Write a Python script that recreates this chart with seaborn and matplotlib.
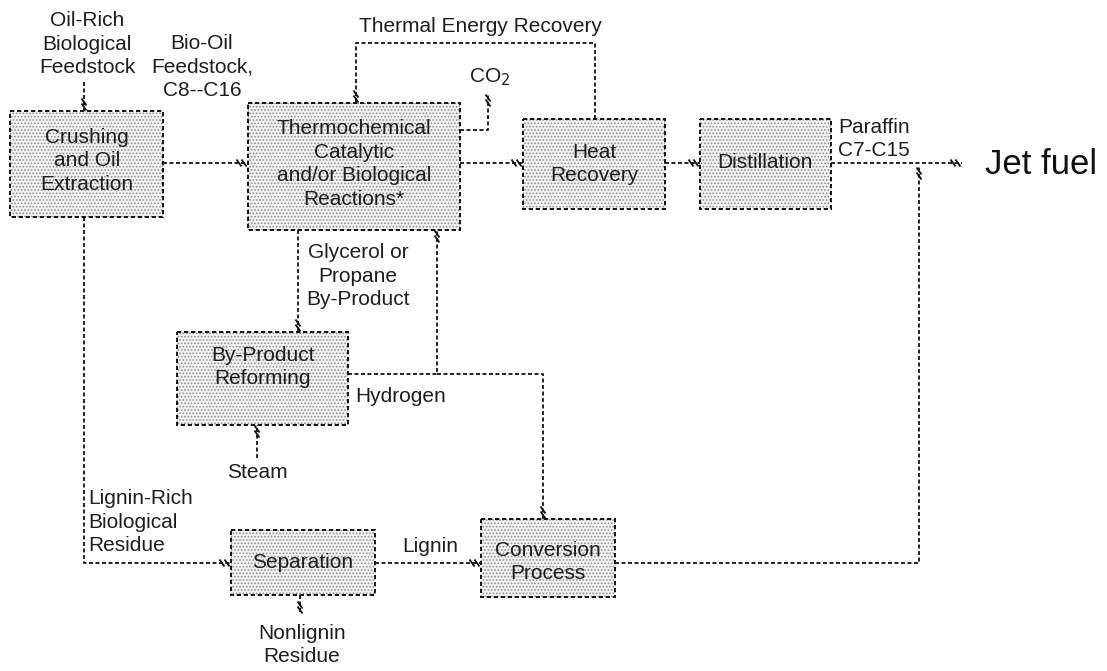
import numpy as np
import pandas as pd
import seaborn as sns
import matplotlib.pyplot as plt
from matplotlib.patches import Rectangle

# process boxes: label text, box extent (left, top, right, bottom) and label centre in pixel units
BOX_LABELS = ["Crushing\nand Oil\nExtraction",
              "Thermochemical\nCatalytic\nand/or Biological\nReactions*",
              "Heat\nRecovery",
              "Distillation",
              "By-Product\nReforming",
              "Separation",
              "Conversion\nProcess"]
BOX_EXTENTS = [(10, 111, 163, 217), (248, 103, 460, 230), (523, 119, 665, 209),
               (700, 119, 831, 209), (177, 332, 348, 425), (231, 530, 375, 595),
               (481, 519, 615, 597)]
BOX_TEXT_POS = [(87, 161), (354, 164), (594, 164), (765, 163), (263, 367),
                (303, 563), (548, 562)]

# stream labels around the boxes
STREAM_LABELS = ["Oil-Rich\nBiological\nFeedstock", "Bio-Oil\nFeedstock,\nC8--C16",
                 "Thermal Energy Recovery", "CO$_2$", "Paraffin\nC7-C15",
                 "Glycerol or\nPropane\nBy-Product", "Hydrogen", "Steam",
                 "Lignin-Rich\nBiological\nResidue", "Lignin", "Nonlignin\nResidue"]
STREAM_POS = [(87, 44, "center"), (202, 67, "center"), (480, 27, "center"),
              (469, 77, "left"), (838, 139, "left"), (358, 276, "center"),
              (355, 397, "left"), (257, 473, "center"), (88, 522, "left"),
              (430, 547, "center"), (302, 645, "center")]

# connector paths, arrow mark at the last point
CONNECTORS = [
    [(84, 82), (84, 111)],
    [(163, 163), (248, 163)],
    [(595, 119), (595, 43), (356, 43), (356, 103)],
    [(460, 130), (488, 130), (488, 94)],
    [(460, 163), (523, 163)],
    [(665, 163), (700, 163)],
    [(831, 163), (962, 163)],
    [(298, 230), (298, 332)],
    [(348, 374), (437, 374), (437, 230)],
    [(437, 374), (543, 374), (543, 519)],
    [(257, 458), (257, 425)],
    [(84, 217), (84, 563), (231, 563)],
    [(375, 563), (481, 563)],
    [(300, 595), (300, 614)],
    [(615, 563), (919, 563), (919, 167)],
]

sns.set_theme(style="white")
plt.rcParams['font.family'] = ['Liberation Sans', 'DejaVu Sans']
plt.rcParams['hatch.linewidth'] = 0.8

fig = plt.figure(figsize=(11.07, 6.71), dpi=100)
ax = fig.add_axes([0, 0, 1, 1])

TXT = '#1e1e1e'
DOT = (0, (2.2, 1.4))
FS = 15
LS = 1.32

# boxes
for (l, t, r, b), label, (tx, ty) in zip(BOX_EXTENTS, BOX_LABELS, BOX_TEXT_POS):
    ax.add_patch(Rectangle((l, t), r - l, b - t, facecolor='#f3f3f3',
                           edgecolor='#8f8f8f', hatch='.....', lw=0, zorder=1))
    ax.add_patch(Rectangle((l, t), r - l, b - t, fill=False, edgecolor='#111111',
                           lw=1.4, linestyle=DOT, zorder=2))
    ax.text(tx, ty, label, ha='center', va='center', fontsize=FS, color=TXT,
            linespacing=LS, zorder=3)

# connectors via seaborn
rows = []
for i, path in enumerate(CONNECTORS):
    for j, (x, y) in enumerate(path):
        rows.append({'path': i, 'order': j, 'x': x, 'y': y})
conn = pd.DataFrame(rows)
sns.lineplot(data=conn, x='x', y='y', units='path', estimator=None, sort=False,
             color='#111111', lw=1.3, linestyle=DOT, ax=ax, legend=False)
ax.set_xlim(0, 1107)
ax.set_ylim(671, 0)
ax.axis('off')

# arrow marks: two short slanted strokes at the end of each connector
for path in CONNECTORS:
    (x0, y0), (x1, y1) = path[-2], path[-1]
    d = np.array([x1 - x0, y1 - y0], float)
    d /= np.hypot(*d)
    for off in (4, 9):
        cx, cy = x1 - d[0] * off, y1 - d[1] * off
        ax.plot([cx - 2.5, cx + 2.5], [cy - 3.5, cy + 3.5], color='#111111',
                lw=1.3, solid_capstyle='butt', zorder=4)

# stream labels
for label, (x, y, ha) in zip(STREAM_LABELS, STREAM_POS):
    ax.text(x, y, label, ha=ha, va='center', fontsize=FS, color=TXT,
            linespacing=LS, zorder=3)

ax.text(985, 165, "Jet fuel", ha='left', va='center', fontsize=25, color='#111111')

fig.savefig('out.png', dpi=100)
